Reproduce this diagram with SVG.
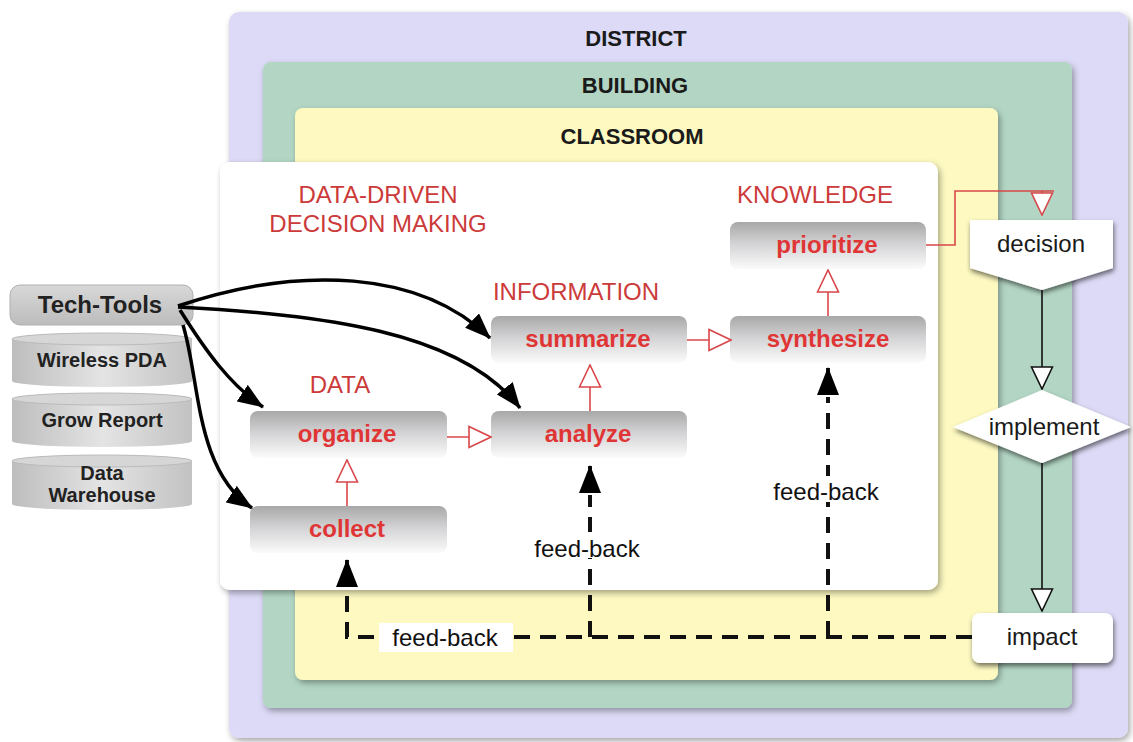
<svg xmlns="http://www.w3.org/2000/svg" width="1133" height="742" viewBox="0 0 1133 742">
<style>
  text { font-family: "Liberation Sans", Arial, sans-serif; }
  .lvl { font-size: 22px; font-weight: bold; fill: #1a1a1a; text-anchor: middle; }
  .head { font-size: 24px; fill: #cc3a3a; text-anchor: middle; }
  .step { font-size: 24px; font-weight: bold; fill: #e03535; text-anchor: middle; }
  .tool { font-size: 20px; font-weight: bold; fill: #222; text-anchor: middle; }
  .out { font-size: 24px; fill: #1a1a1a; text-anchor: middle; }
  .fb { font-size: 24px; fill: #111; text-anchor: middle; }
  .red { fill: none; stroke: #d8474a; stroke-width: 1.6; }
  .thin { fill: none; stroke: #111; stroke-width: 1.6; }
  .curve { fill: none; stroke: #000; stroke-width: 3.5; }
  .dash { fill: none; stroke: #111; stroke-width: 4; stroke-dasharray: 16 10; }
  .stepbox { fill: url(#stepGrad); }
</style>
<defs>
  <linearGradient id="stepGrad" x1="0" y1="0" x2="0" y2="1">
    <stop offset="0" stop-color="#a8a8a8"/>
    <stop offset="0.45" stop-color="#d2d2d4"/>
    <stop offset="1" stop-color="#fbfbfb"/>
  </linearGradient>
  <linearGradient id="cylGrad" x1="0" y1="0" x2="1" y2="0">
    <stop offset="0" stop-color="#bdbdbd"/>
    <stop offset="0.5" stop-color="#e4e4e4"/>
    <stop offset="1" stop-color="#c2c2c2"/>
  </linearGradient>
  <linearGradient id="toolGrad" x1="0" y1="0" x2="0" y2="1">
    <stop offset="0" stop-color="#d8d8d8"/>
    <stop offset="1" stop-color="#bcbcbc"/>
  </linearGradient>
  <filter id="shadow" x="-10%" y="-10%" width="125%" height="130%">
    <feDropShadow dx="2" dy="3" stdDeviation="3" flood-color="#000" flood-opacity="0.35"/>
  </filter>
  <filter id="shadowS" x="-10%" y="-10%" width="130%" height="140%">
    <feDropShadow dx="1" dy="3" stdDeviation="2.5" flood-color="#000" flood-opacity="0.55"/>
  </filter>
  <marker id="hollowRed" markerUnits="userSpaceOnUse" viewBox="0 0 24 24" markerWidth="24" markerHeight="24" refX="23" refY="12" orient="auto">
    <path d="M1,1.5 L23,12 L1,22.5 Z" fill="#fff" stroke="#d8474a" stroke-width="1.6"/>
  </marker>
  <marker id="hollowBlk" markerUnits="userSpaceOnUse" viewBox="0 0 24 24" markerWidth="24" markerHeight="24" refX="23" refY="12" orient="auto">
    <path d="M1,1.5 L23,12 L1,22.5 Z" fill="#fff" stroke="#111" stroke-width="1.6"/>
  </marker>
  <marker id="solid" markerUnits="userSpaceOnUse" viewBox="0 0 28 22" markerWidth="28" markerHeight="22" refX="27" refY="11" orient="auto">
    <path d="M0,0 L28,11 L0,22 Z" fill="#000"/>
  </marker>
  <marker id="solidC" markerUnits="userSpaceOnUse" viewBox="0 0 26 20" markerWidth="26" markerHeight="20" refX="25" refY="10" orient="auto">
    <path d="M0,0 L26,10 L0,20 Z" fill="#000"/>
  </marker>
</defs>

<rect width="1133" height="742" fill="#fff"/>

<g id="district">
  <rect x="229" y="12" width="899" height="726" rx="10" fill="#dcdaf6" filter="url(#shadow)"/>
  <text class="lvl" x="636" y="46">DISTRICT</text>
</g>
<g id="building">
  <rect x="263" y="62" width="809" height="646" rx="8" fill="#b3d6c4" filter="url(#shadow)"/>
  <text class="lvl" x="635" y="93">BUILDING</text>
</g>
<g id="classroom">
  <rect x="295" y="108" width="703" height="572" rx="8" fill="#fdf9c1" filter="url(#shadow)"/>
  <text class="lvl" x="632" y="144">CLASSROOM</text>
</g>
<g id="ddd">
  <rect x="220" y="162" width="718" height="428" rx="10" fill="#fff" filter="url(#shadow)"/>
  <text class="head" x="378" y="203">DATA-DRIVEN</text>
  <text class="head" x="378" y="232">DECISION MAKING</text>
  <text class="head" x="815" y="203">KNOWLEDGE</text>
  <text class="head" x="576" y="300">INFORMATION</text>
  <text class="head" x="340" y="393">DATA</text>
</g>

<g id="prioritize"><rect class="stepbox" x="730" y="222" width="196" height="47" rx="8"/><text class="step" x="827" y="253">prioritize</text></g>
<g id="summarize"><rect class="stepbox" x="491" y="316" width="196" height="47" rx="8"/><text class="step" x="588" y="347">summarize</text></g>
<g id="synthesize"><rect class="stepbox" x="730" y="316" width="196" height="47" rx="8"/><text class="step" x="828" y="347">synthesize</text></g>
<g id="organize"><rect class="stepbox" x="250" y="411" width="197" height="47" rx="8"/><text class="step" x="347" y="442">organize</text></g>
<g id="analyze"><rect class="stepbox" x="491" y="411" width="196" height="47" rx="8"/><text class="step" x="588" y="442">analyze</text></g>
<g id="collect"><rect class="stepbox" x="250" y="506" width="197" height="47" rx="8"/><text class="step" x="347" y="537">collect</text></g>

<g id="tech-tools">
  <rect x="10" y="285" width="183" height="40" rx="10" fill="url(#toolGrad)" stroke="#b0b0b0" stroke-width="1"/>
  <text class="tool" x="100" y="313" style="font-size:24px">Tech-Tools</text>
</g>
<g id="wireless-pda">
  <path d="M12,339 A90,6 0 0 1 192,339 V381 A90,6 0 0 1 12,381 Z" fill="url(#cylGrad)"/>
  <ellipse cx="102" cy="339" rx="90" ry="6" fill="#d6d6d6" stroke="#bbb" stroke-width="1"/>
  <text class="tool" x="102" y="367">Wireless PDA</text>
</g>
<g id="grow-report">
  <path d="M12,399 A90,6 0 0 1 192,399 V441 A90,6 0 0 1 12,441 Z" fill="url(#cylGrad)"/>
  <ellipse cx="102" cy="399" rx="90" ry="6" fill="#d6d6d6" stroke="#bbb" stroke-width="1"/>
  <text class="tool" x="102" y="427">Grow Report</text>
</g>
<g id="data-warehouse">
  <path d="M12,461 A90,6 0 0 1 192,461 V504 A90,6 0 0 1 12,504 Z" fill="url(#cylGrad)"/>
  <ellipse cx="102" cy="461" rx="90" ry="6" fill="#d6d6d6" stroke="#bbb" stroke-width="1"/>
  <text class="tool" x="102" y="480">Data</text>
  <text class="tool" x="102" y="502">Warehouse</text>
</g>

<g id="decision">
  <polygon points="970,220 1113,220 1113,268 1042,290 970,268" fill="#fff" filter="url(#shadowS)"/>
  <text class="out" x="1041" y="252">decision</text>
</g>
<g id="implement">
  <polygon points="953,427 1042,390 1131,427 1042,463" fill="#fff" filter="url(#shadowS)"/>
  <text class="out" x="1044" y="435">implement</text>
</g>
<g id="impact">
  <rect x="972" y="613" width="141" height="50" rx="8" fill="#fff" filter="url(#shadowS)"/>
  <text class="out" x="1042" y="645">impact</text>
</g>

<g id="connectors">
  <path class="red" d="M447,437 H491" marker-end="url(#hollowRed)"/>
  <path class="red" d="M347,506 V460" marker-end="url(#hollowRed)"/>
  <path class="red" d="M590,411 V365" marker-end="url(#hollowRed)"/>
  <path class="red" d="M687,340 H731" marker-end="url(#hollowRed)"/>
  <path class="red" d="M828,316 V270" marker-end="url(#hollowRed)"/>
  <path class="red" d="M926,245 H955 V191 H1054 M1042,191 V215" marker-end="url(#hollowRed)"/>
  <path class="thin" d="M1042,290 V389" marker-end="url(#hollowBlk)"/>
  <path class="thin" d="M1042,463 V611" marker-end="url(#hollowBlk)"/>

  <path class="curve" d="M178,306 C300,265 420,270 490,338" marker-end="url(#solidC)"/>
  <path class="curve" d="M178,307 C320,315 460,330 520,408" marker-end="url(#solidC)"/>
  <path class="curve" d="M180,310 C205,350 230,385 263,407" marker-end="url(#solidC)"/>
  <path class="curve" d="M183,325 C200,380 195,470 252,508" marker-end="url(#solidC)"/>

  <path class="dash" d="M972,637 H347 V588"/>
  <path d="M347,586 V560" stroke="#111" stroke-width="4" marker-end="url(#solid)"/>
  <path class="dash" d="M590,637 V495"/>
  <path d="M590,493 V466" stroke="#111" stroke-width="4" marker-end="url(#solid)"/>
  <path class="dash" d="M828,637 V397"/>
  <path d="M828,395 V368" stroke="#111" stroke-width="4" marker-end="url(#solid)"/>

  <rect x="379" y="623" width="134" height="29" fill="#fff"/>
  <text class="fb" x="445" y="646">feed-back</text>
  <rect x="530" y="532" width="114" height="26" fill="#fff"/>
  <text class="fb" x="587" y="557">feed-back</text>
  <rect x="770" y="476" width="116" height="26" fill="#fff"/>
  <text class="fb" x="826" y="500">feed-back</text>
</g>
</svg>
